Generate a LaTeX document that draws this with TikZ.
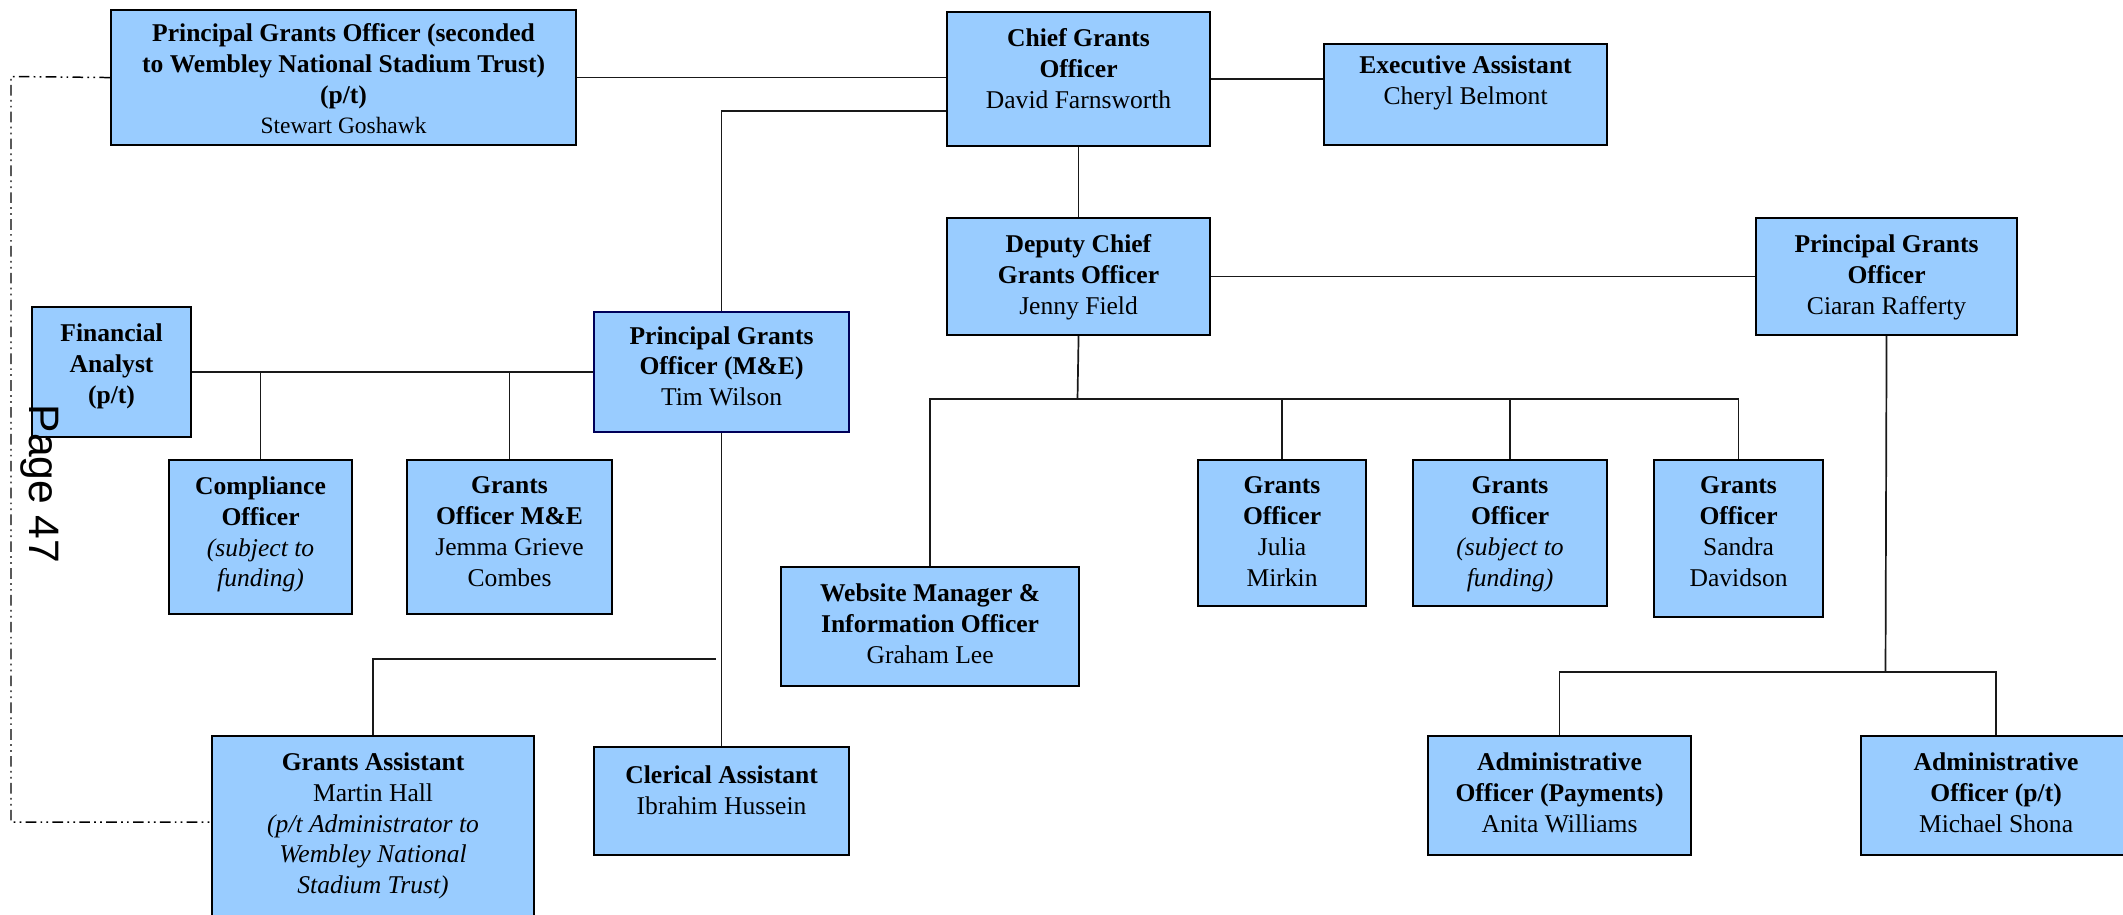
\documentclass[tikz,border=0pt]{standalone}
\usepackage{fontspec}
\setmainfont{Liberation Serif}
\newfontfamily\pagefont{Liberation Sans}
\usetikzlibrary{positioning}

\definecolor{postblue}{RGB}{153,204,255}
\newlength\px
\setlength\px{0.0165cm}

\tikzset{
  post/.style={draw=black, line width=1pt, fill=postblue, inner sep=0pt, anchor=north west},
  posttext/.style={align=center, inner sep=0pt, font=\fontsize{12}{14.5}\selectfont},
  link/.style={line width=0.8pt, draw=black!90},
  dashlink/.style={line width=0.7pt, dash pattern=on 5pt off 2pt on 0.8pt off 2pt on 0.8pt off 2pt}
}

\begin{document}
\begin{tikzpicture}[x=0.0165cm, y=-0.0165cm]
    \useasboundingbox (0,0) rectangle (2123,914);

    \node[post, minimum width=465*\px, minimum height=135*\px] (pgow) at (110,9) {};
    \node[post, minimum width=263*\px, minimum height=134*\px] (chief) at (946,11) {};
    \node[post, minimum width=283*\px, minimum height=101*\px] (exec) at (1323,43) {};
    \node[post, minimum width=263*\px, minimum height=117*\px] (deputy) at (946,217) {};
    \node[post, minimum width=261*\px, minimum height=117*\px] (pgoc) at (1755,217) {};
    \node[post, minimum width=159*\px, minimum height=130*\px] (fa) at (31,306) {};
    \node[post, draw=blue!35!black, minimum width=255*\px, minimum height=120*\px] (pgome) at (593,311) {};
    \node[post, minimum width=183*\px, minimum height=154*\px] (comp) at (168,459) {};
    \node[post, minimum width=205*\px, minimum height=154*\px] (gome) at (406,459) {};
    \node[post, minimum width=298*\px, minimum height=119*\px] (web) at (780,566) {};
    \node[post, minimum width=168*\px, minimum height=146*\px] (goj) at (1197,459) {};
    \node[post, minimum width=194*\px, minimum height=146*\px] (gos) at (1412,459) {};
    \node[post, minimum width=169*\px, minimum height=157*\px] (gosd) at (1653,459) {};
    \node[post, minimum width=322*\px, minimum height=200*\px] (ga) at (211,735) {};
    \node[post, minimum width=255*\px, minimum height=108*\px] (cler) at (593,746) {};
    \node[post, minimum width=263*\px, minimum height=119*\px] (adp) at (1427,735) {};
    \node[post, minimum width=270*\px, minimum height=119*\px] (adpt) at (1860,735) {};

    \node[posttext, below=6.5pt of pgow.north] (pgow-t) {\textbf{Principal Grants Officer (seconded}\\\textbf{to Wembley National Stadium Trust)}\\\textbf{(p/t)}\\{\fontsize{11}{13}\selectfont Stewart Goshawk}};
    \node[posttext, below=8pt of chief.north] (chief-t) {\textbf{Chief Grants}\\\textbf{Officer}\\David Farnsworth};
    \node[posttext, below=6pt of exec.north] (exec-t) {\textbf{Executive Assistant}\\Cheryl Belmont};
    \node[posttext, below=8pt of deputy.north] (deputy-t) {\textbf{Deputy Chief}\\\textbf{Grants Officer}\\Jenny Field};
    \node[posttext, below=8pt of pgoc.north] (pgoc-t) {\textbf{Principal Grants}\\\textbf{Officer}\\Ciaran Rafferty};
    \node[posttext, below=8pt of fa.north] (fa-t) {\textbf{Financial}\\\textbf{Analyst}\\\textbf{(p/t)}};
    \node[posttext, below=7pt of pgome.north] (pgome-t) {\textbf{Principal Grants}\\\textbf{Officer (M\&E)}\\Tim Wilson};
    \node[posttext, below=8pt of comp.north] (comp-t) {\textbf{Compliance}\\\textbf{Officer}\\\textit{(subject to}\\\textit{funding)}};
    \node[posttext, below=8pt of gome.north] (gome-t) {\textbf{Grants}\\\textbf{Officer M\&E}\\Jemma Grieve\\Combes};
    \node[posttext, below=8pt of web.north] (web-t) {\textbf{Website Manager \&}\\\textbf{Information Officer}\\Graham Lee};
    \node[posttext, below=8pt of goj.north] (goj-t) {\textbf{Grants}\\\textbf{Officer}\\Julia\\Mirkin};
    \node[posttext, below=8pt of gos.north] (gos-t) {\textbf{Grants}\\\textbf{Officer}\\\textit{(subject to}\\\textit{funding)}};
    \node[posttext, below=8pt of gosd.north] (gosd-t) {\textbf{Grants}\\\textbf{Officer}\\Sandra\\Davidson};
    \node[posttext, below=8pt of ga.north] (ga-t) {\textbf{Grants Assistant}\\Martin Hall\\\textit{(p/t Administrator to}\\\textit{Wembley National}\\\textit{Stadium Trust)}};
    \node[posttext, below=9pt of cler.north] (cler-t) {\textbf{Clerical Assistant}\\Ibrahim Hussein};
    \node[posttext, below=8pt of adp.north] (adp-t) {\textbf{Administrative}\\\textbf{Officer (Payments)}\\Anita Williams};
    \node[posttext, below=8pt of adpt.north] (adpt-t) {\textbf{Administrative}\\\textbf{Officer (p/t)}\\Michael Shona};

    \node[rotate=-90, inner sep=0pt, font=\pagefont\fontsize{20}{24}\selectfont] (pageno) at (40,484) {Page 47};

    \coordinate (chief-l) at (946,111);
    \coordinate (dbar) at (1077.5,399);
    \coordinate (cbar) at (1885.5,672);
    \coordinate (gabar) at (716,659);
    \coordinate (dd1) at (11,76.5);
    \coordinate (dd2) at (11,822);

    \draw[link] (pgow.east) -- (pgow.east -| chief.west);
    \draw[link] (chief.east) -- (chief.east -| exec.west);
    \draw[link] (chief.south) -- (deputy.north);
    \draw[link] (deputy.east) -- (deputy.east -| pgoc.west);
    \draw[link] (chief-l) -| (pgome.north);

    \draw[link] (deputy.south) -- (dbar);
    \draw[link] (web.north) -- (web.north |- dbar) -- (gosd.north |- dbar) -- (gosd.north);
    \draw[link] (goj.north) -- (goj.north |- dbar);
    \draw[link] (gos.north) -- (gos.north |- dbar);

    \draw[link] (pgoc.south) -- (cbar);
    \draw[link] (adp.north) -- (adp.north |- cbar) -- (adpt.north |- cbar) -- (adpt.north);

    \draw[link] (fa.east) -- (fa.east -| pgome.west);
    \draw[link] (comp.north) -- (comp.north |- fa.east);
    \draw[link] (gome.north) -- (gome.north |- fa.east);
    \draw[link] (pgome.south) -- (cler.north);
    \draw[link] (gabar) -| (ga.north);

    \draw[dashlink] (pgow.west) -- (dd1) -- (dd2) -- (dd2 -| ga.west);

\end{tikzpicture}
\end{document}
